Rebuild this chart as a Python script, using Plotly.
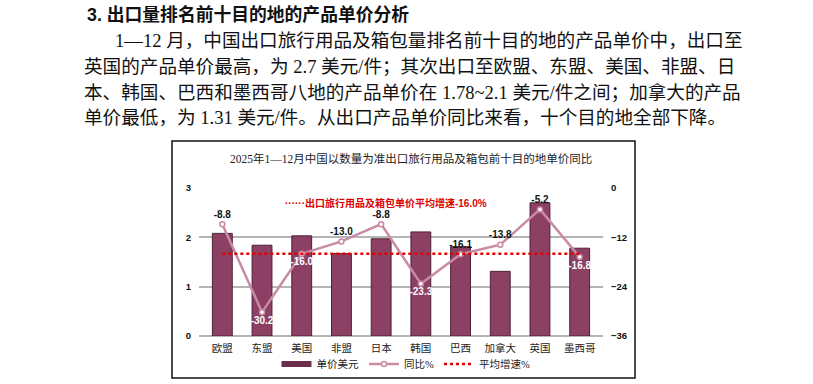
import plotly.graph_objects as go

# ---- data ----
categories = ["欧盟", "东盟", "美国", "非盟", "日本", "韩国", "巴西", "加拿大", "英国", "墨西哥"]
unit_price = [2.08, 1.84, 2.03, 1.67, 1.97, 2.11, 1.81, 1.31, 2.70, 1.78]
yoy_pct = [-8.8, -30.2, -16.0, -13.0, -8.8, -23.3, -16.1, -13.8, -5.2, -16.8]
avg_growth = -16.0
label_above = [True, False, False, True, True, False, True, True, True, False]

W, H = 813, 384
L, R, T, B = 199, 603, 188, 336  # plot area in pixels


def px(x):
    return (x - L) / (R - L)


def py(y):
    return (B - y) / (B - T)


CJK = "Noto Sans CJK SC"
SERIF = "Liberation Serif, " + CJK
SANS = "Liberation Sans, " + CJK

fig = go.Figure()

fig.add_trace(go.Bar(
    x=categories, y=unit_price, name="单价美元", width=0.5, showlegend=False,
    marker=dict(color="#8C4063", line=dict(color="#4E2136", width=1)),
    yaxis="y",
))
# legend swatch for the bars (wide bar-like symbol as in the original)
fig.add_trace(go.Scatter(
    x=[categories[0]], y=[None], name="单价美元", yaxis="y", mode="lines",
    line=dict(color="#6E2D4B", width=6),
))

fig.add_trace(go.Scatter(
    x=categories, y=yoy_pct, name="同比%", yaxis="y2",
    mode="lines+markers+text",
    line=dict(color="#C98AA5", width=2.5),
    marker=dict(symbol="circle", size=5, color="white", line=dict(color="#C98AA5", width=1.5)),
    text=[f"{v:.1f}" for v in yoy_pct],
    textposition=["top center" if a else "bottom center" for a in label_above],
    textfont=dict(family=SANS, size=10, color=["#111111" if a else "white" for a in label_above],
                  weight="bold"),
    cliponaxis=False,
))

fig.add_trace(go.Scatter(
    x=categories, y=[avg_growth] * len(categories), name="平均增速%", yaxis="y2",
    mode="lines", line=dict(color="#E00000", width=2.5, dash="dot"),
))

fig.update_layout(
    width=W, height=H,
    margin=dict(l=L, r=W - R, t=T, b=H - B, pad=0, autoexpand=False),
    paper_bgcolor="white", plot_bgcolor="white",
    showlegend=True,
    legend=dict(orientation="h", xref="container", yref="container",
                x=406 / W, y=1 - 364 / H, xanchor="center", yanchor="middle",
                font=dict(family=SERIF, size=10.5, color="#222"),
                itemwidth=30, tracegroupgap=0, bgcolor="rgba(0,0,0,0)"),
    xaxis=dict(type="category", showgrid=False, showline=False, ticks="", automargin=False,
               tickfont=dict(family=SERIF, size=10.5, color="#222"), ticklabelstandoff=4),
    yaxis=dict(range=[0, 3], dtick=1, showgrid=True, gridcolor="#B5B5B5", gridwidth=1.5,
               zeroline=True, zerolinecolor="#B5B5B5", zerolinewidth=1.5, automargin=False,
               tickfont=dict(family=SANS, size=9.5, color="#111", weight="bold"),
               ticklabelstandoff=7, showline=False),
    yaxis2=dict(range=[-36, 0], dtick=12, overlaying="y", side="right", showgrid=False,
                zeroline=False, showline=False, automargin=False,
                tickfont=dict(family=SANS, size=9.5, color="#111", weight="bold"),
                ticklabelstandoff=7),
    bargap=0.5,
)

# chart frame
fig.add_shape(type="rect", xref="paper", yref="paper",
              x0=px(172), x1=px(635), y0=py(378), y1=py(141),
              line=dict(color="#111", width=1.5), fillcolor="rgba(0,0,0,0)", layer="below")

ann = []
ann.append(dict(text="2025年1—12月中国以数量为准出口旅行用品及箱包前十目的地单价同比",
                x=px(411), y=py(158), xanchor="center", yanchor="middle",
                font=dict(family=SERIF, size=11.5, color="#222")))
ann.append(dict(text="······出口旅行用品及箱包单价平均增速-16.0%",
                x=px(283), y=py(203), xanchor="left", yanchor="middle",
                font=dict(family=SANS, size=10, color="#E00000", weight="bold")))
ann.append(dict(text="<b>3. 出口量排名前十目的地的产品单价分析</b>",
                x=px(85), y=py(15), xanchor="left", yanchor="middle",
                font=dict(family=SANS, size=17.8, color="#111")))
para = [
    ("1—12 月，中国出口旅行用品及箱包量排名前十目的地的产品单价中，出口至", 113, 40),
    ("英国的产品单价最高，为 2.7 美元/件；其次出口至欧盟、东盟、美国、非盟、日", 82, 66),
    ("本、韩国、巴西和墨西哥八地的产品单价在 1.78~2.1 美元/件之间；加拿大的产品", 82, 92),
    ("单价最低，为 1.31 美元/件。从出口产品单价同比来看，十个目的地全部下降。", 82, 118),
]
for t, x, y in para:
    ann.append(dict(text=t, x=px(x), y=py(y), xanchor="left", yanchor="middle",
                    font=dict(family=SERIF, size=18.6, color="#111")))
for a in ann:
    a.update(xref="paper", yref="paper", showarrow=False)
fig.update_layout(annotations=ann)

fig.write_html("out.html", config={"displayModeBar": False},
               post_script="document.body.style.margin='0';document.body.style.overflow='hidden';")
